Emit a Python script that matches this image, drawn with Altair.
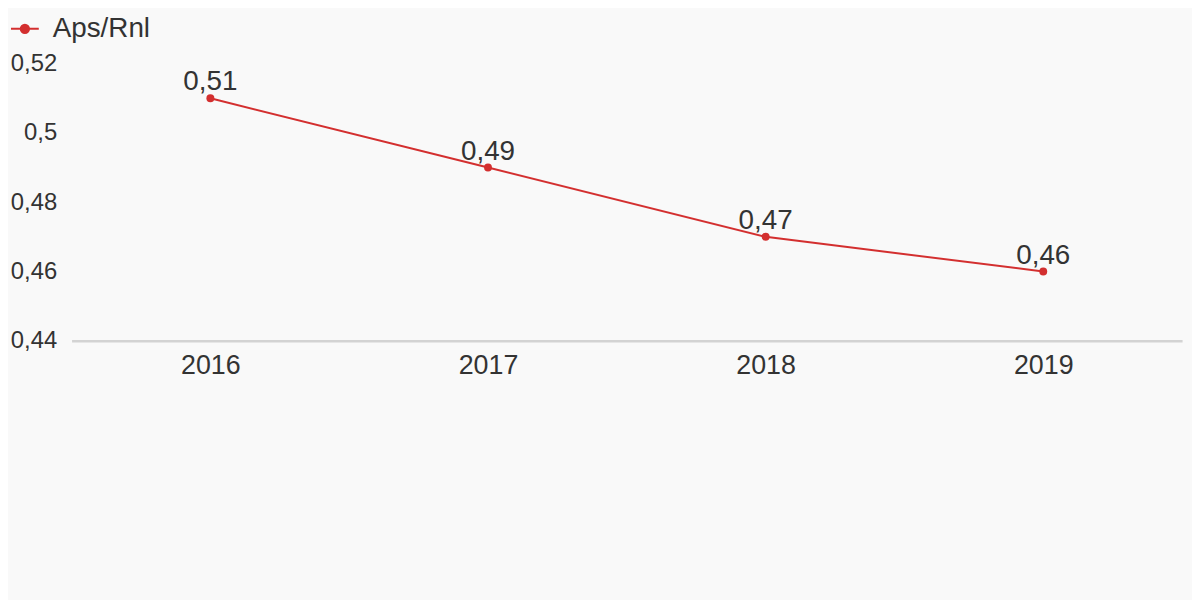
import altair as alt
import pandas as pd

years = ["2016", "2017", "2018", "2019"]
values = [0.51, 0.49, 0.47, 0.46]
series = "Aps/Rnl"
y_ticks = [0.44, 0.46, 0.48, 0.50, 0.52]

df = pd.DataFrame({"year": years, "value": values, "series": [series] * len(years)})

RED = "#d32f2f"
TEXT = "#333333"
FONT = "Liberation Sans"
BG = "#f9f9f9"
FMT = "replace(format(datum.value, '.2~f'), '.', ',')"

yscale = alt.Scale(domain=[0.44, 0.52], nice=False, zero=False)

x = alt.X("year:N", title=None,
          scale=alt.Scale(type="point", padding=0.5),
          axis=alt.Axis(labelAngle=0, labelFontSize=27, labelColor=TEXT, labelFont=FONT,
                        ticks=False, domainColor="#d3d3d3", domainWidth=2.5,
                        labelPadding=12, grid=False))
y = alt.Y("value:Q", title=None, scale=yscale,
          axis=alt.Axis(values=y_ticks, labelExpr=FMT, labelFontSize=24, labelColor=TEXT,
                        labelFont=FONT, labelAlign="right", labelBaseline="middle",
                        ticks=False, domain=False, grid=False, labelPadding=15))

color = alt.Color("series:N", scale=alt.Scale(range=[RED]),
                  legend=alt.Legend(title=None, orient="none", legendX=-62, legendY=-50,
                                    symbolType="M-1,0H1M-0.3,0A0.3,0.3 0 1,1 0.3,0A0.3,0.3 0 1,1 -0.3,0",
                                    symbolSize=784, symbolStrokeWidth=2,
                                    symbolFillColor=RED, symbolStrokeColor=RED,
                                    labelFontSize=28, labelColor=TEXT, labelFont=FONT,
                                    labelOffset=13, padding=0))

base = alt.Chart(df).encode(x=x, y=y)

line = base.mark_line(strokeWidth=2).encode(color=color)
points = base.mark_point(filled=True, size=64, opacity=1, color=RED)
labels = base.mark_text(fontSize=28, font=FONT, color=TEXT, baseline="alphabetic", dy=-8).encode(
    text=alt.Text("label:N")
).transform_calculate(label=FMT)

chart = (line + points + labels).properties(
    width=1118, height=279,
    autosize=alt.AutoSizeParams(type="none"),
    padding={"left": 64, "top": 54, "right": 10, "bottom": 259},
    background=BG,
).configure_view(stroke=None)

chart.save("out.html", embed_options={"renderer": "svg", "actions": False})
